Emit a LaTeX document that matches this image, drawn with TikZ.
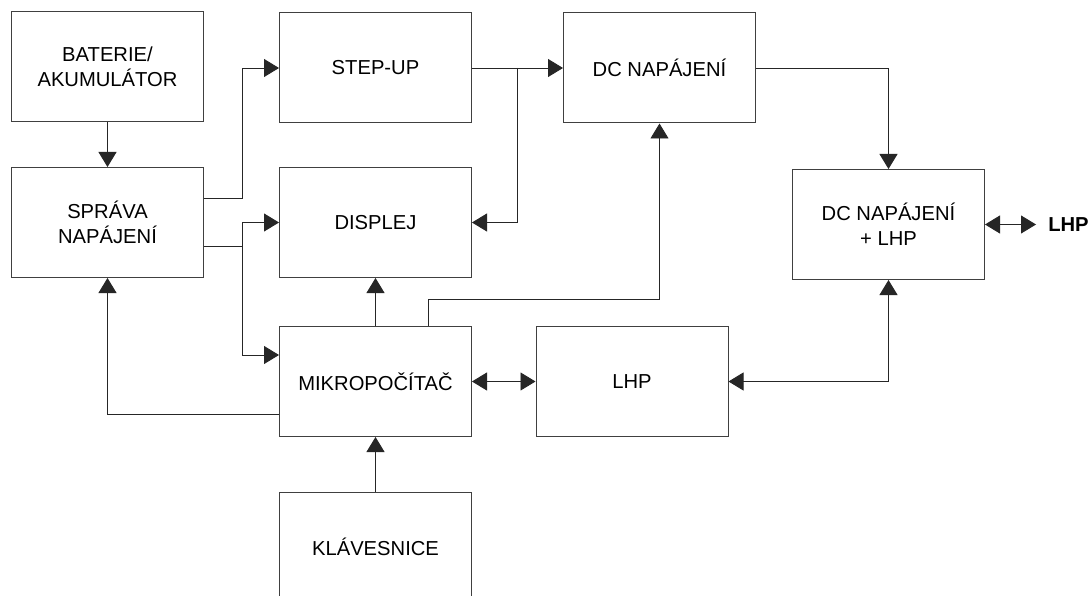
\documentclass[tikz,border=0pt]{standalone}
\usepackage{fontspec}
\setmainfont{Liberation Sans}
\usetikzlibrary{arrows.meta}
\begin{document}
\begin{tikzpicture}[x=1pt,y=-1pt,
  blok/.style={draw=black!75,line width=1pt,minimum width=192pt,minimum height=110pt,
    align=center,inner sep=0pt,font=\fontsize{20.2}{25}\selectfont},
  spoj/.style={line width=0.9pt,black!85},
  sipka/.style={spoj,-{Triangle[length=15pt,width=18pt]}},
  obousmer/.style={spoj,{Triangle[length=15pt,width=18pt]}-{Triangle[length=15pt,width=18pt]}}]
  \clip (0,0) rectangle (1090,596);
  \fill[white] (0,0) rectangle (1090,596);
  % bloky
  \node[blok] (bat) at (107.5,66.5) {BATERIE/\\AKUMULÁTOR};
  \node[blok] (sprava) at (107.5,222.5) {SPRÁVA\\NAPÁJENÍ};
  \node[blok] (stepup) at (375.5,68) {STEP-UP};
  \node[blok] (displej) at (375.5,222.5) {DISPLEJ};
  \node[blok] (dc) at (659.5,68) {DC NAPÁJENÍ};
  \node[blok] (dclhp) at (888.5,224.5) {DC NAPÁJENÍ\\+ LHP};
  \node[blok] (mikro) at (375.5,381.5) {MIKROPOČÍTAČ};
  \node[blok] (lhp) at (632,381.5) {LHP};
  \node[blok] (klav) at (375.5,547) {KLÁVESNICE};
  \node[font=\fontsize{20.2}{25}\selectfont\bfseries] (vystup) at (1068.5,224.5) {LHP};
  % body zlomu
  \coordinate (ja) at (242,198);
  \coordinate (jb) at (242,246);
  \coordinate (jc) at (242,222.5);
  \coordinate (jd) at (242,355);
  \coordinate (je) at (517,68);
  \coordinate (jf) at (428,299);
  \coordinate (jg) at (107.5,414);
  \coordinate (vy) at (1036,224.5);
  % spoje
  \draw[sipka] (bat) -- (sprava);
  \draw[sipka] (sprava.east |- ja) -- (ja) |- (stepup.west);
  \draw[spoj] (sprava.east |- jb) -- (jb);
  \draw[sipka] (jc) -- (displej.west);
  \draw[sipka] (jc) -- (jd) -- (mikro.west |- jd);
  \draw[sipka] (stepup.east) -- (dc.west);
  \draw[sipka] (je) |- (displej.east);
  \draw[sipka] (dc.east) -| (dclhp.north);
  \draw[obousmer] (dclhp.east) -- (vy);
  \draw[sipka] (mikro.north) -- (mikro.north |- displej.south);
  \draw[sipka] (mikro.north -| jf) -- (jf) -| (dc.south);
  \draw[obousmer] (mikro.east) -- (lhp.west);
  \draw[obousmer] (lhp.east) -| (dclhp.south);
  \draw[sipka] (mikro.west |- jg) -- (jg) -- (sprava.south);
  \draw[sipka] (klav.north) -- (mikro.south);
\end{tikzpicture}
\end{document}
